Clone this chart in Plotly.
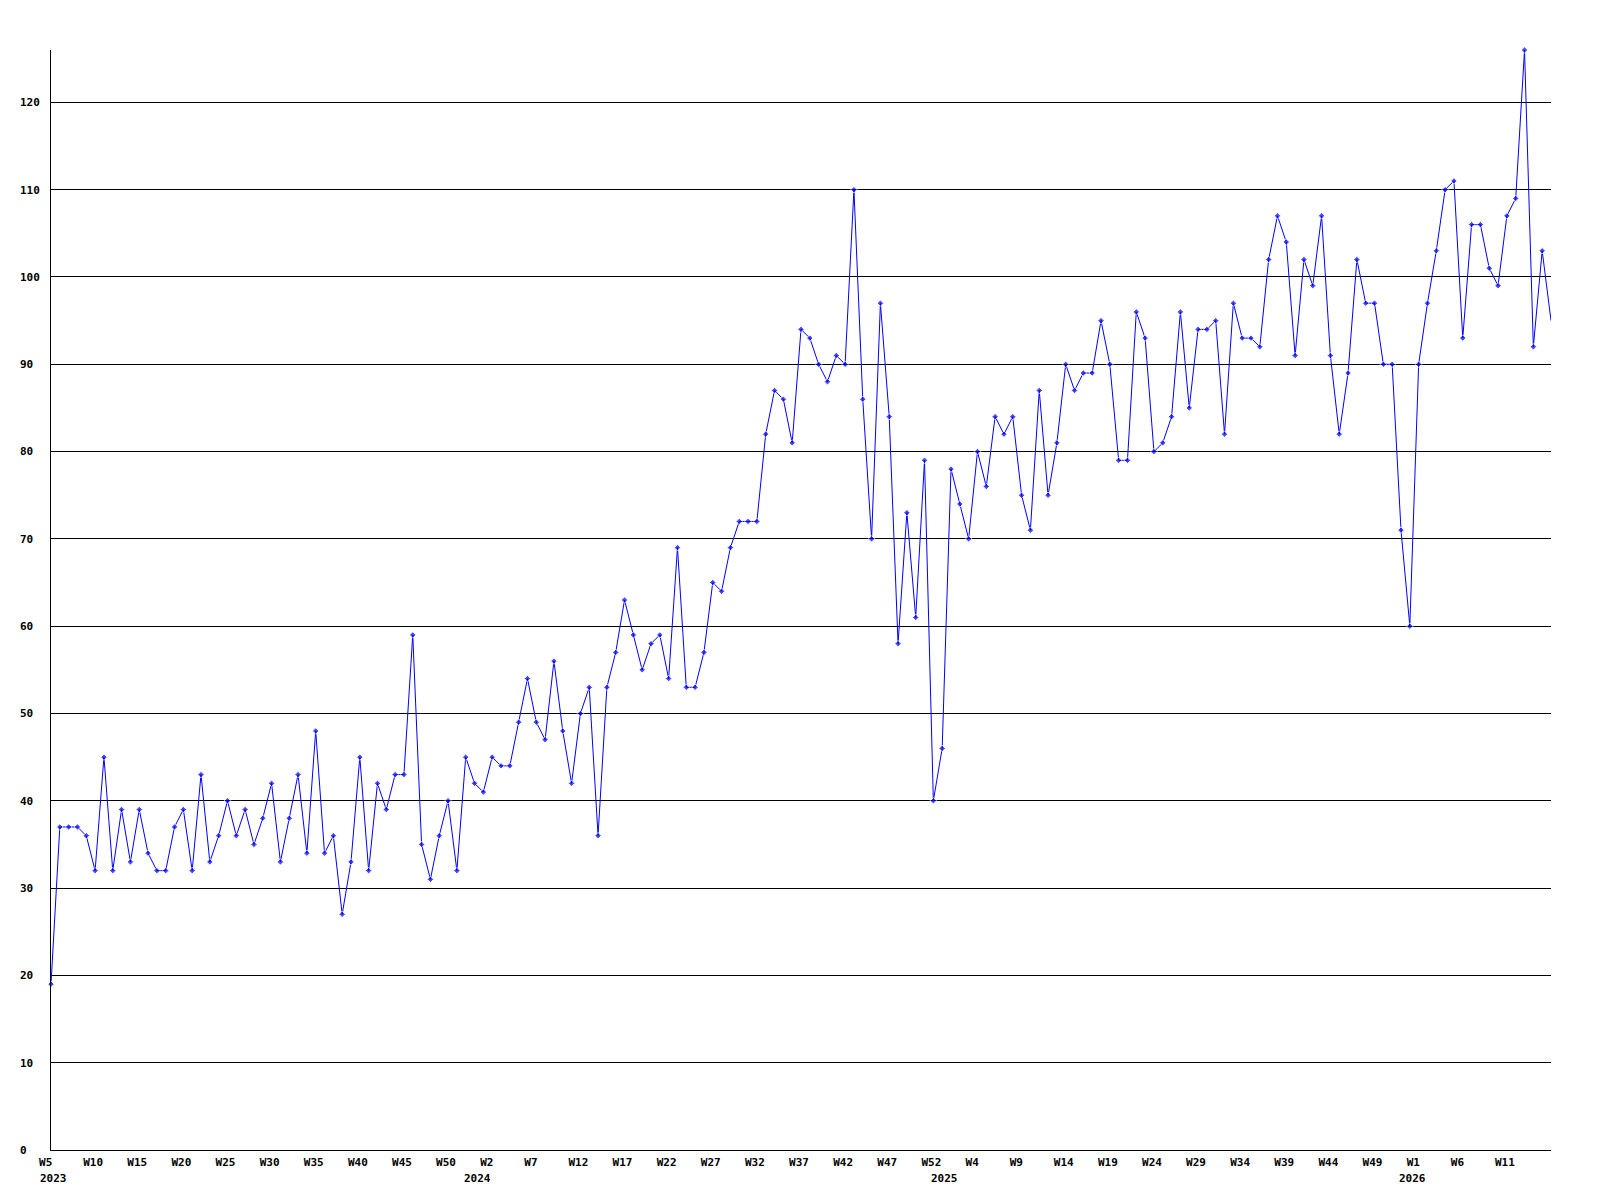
# Weekly counts line chart, 2023 W5 - 2026
import plotly.graph_objects as go

# one value per week, starting at 2023 W5
WEEKLY_COUNTS = [
    19, 37, 37, 37, 36, 32, 45, 32, 39, 33,
    39, 34, 32, 32, 37, 39, 32, 43, 33, 36,
    40, 36, 39, 35, 38, 42, 33, 38, 43, 34,
    48, 34, 36, 27, 33, 45, 32, 42, 39, 43,
    43, 59, 35, 31, 36, 40, 32, 45, 42, 41,
    45, 44, 44, 49, 54, 49, 47, 56, 48, 42,
    50, 53, 36, 53, 57, 63, 59, 55, 58, 59,
    54, 69, 53, 53, 57, 65, 64, 69, 72, 72,
    72, 82, 87, 86, 81, 94, 93, 90, 88, 91,
    90, 110, 86, 70, 97, 84, 58, 73, 61, 79,
    40, 46, 78, 74, 70, 80, 76, 84, 82, 84,
    75, 71, 87, 75, 81, 90, 87, 89, 89, 95,
    90, 79, 79, 96, 93, 80, 81, 84, 96, 85,
    94, 94, 95, 82, 97, 93, 93, 92, 102, 107,
    104, 91, 102, 99, 107, 91, 82, 89, 102, 97,
    97, 90, 90, 71, 60, 90, 97, 103, 110, 111,
    93, 106, 106, 101, 99, 107, 109, 126, 92, 103,
    95,
]

# a label every fifth week
WEEK_TICKS = [
    "W5", "W10", "W15", "W20", "W25", "W30", "W35", "W40", "W45", "W50",
    "W2", "W7", "W12", "W17", "W22", "W27", "W32", "W37", "W42", "W47", "W52",
    "W4", "W9", "W14", "W19", "W24", "W29", "W34", "W39", "W44", "W49",
    "W1", "W6", "W11",
]

# year label sits at the first week of each year
YEARS = ["2023", "2024", "2025", "2026"]
YEAR_AT_WEEK = [0, 48, 101, 154]

Y_TICKS = list(range(0, 130, 10))

FONT = "DejaVu Sans Mono"
TICK_FONT = {"family": FONT, "size": 11, "color": "black", "weight": "bold"}

weeks = list(range(len(WEEKLY_COUNTS)))
# the current (last) week is drawn without a marker
marker_sizes = [5] * (len(WEEKLY_COUNTS) - 1) + [0]

fig = go.Figure()
fig.add_scatter(x=weeks,
                y=WEEKLY_COUNTS,
                mode="lines+markers",
                line={"color": "#0000ff", "width": 1},
                marker={"color": "#0000ff", "size": marker_sizes,
                        "symbol": "diamond"},
                cliponaxis=False,
                showlegend=False)

for year, pos in zip(YEARS, YEAR_AT_WEEK):
    fig.add_annotation(x=pos, y=0, xref="x", yref="paper",
                       text=year, showarrow=False,
                       xanchor="left", yanchor="top",
                       xshift=-13, yshift=-20,
                       font=TICK_FONT)

# pad to equal width so the labels line up on their left edge
fig.update_xaxes(range=[0, len(WEEKLY_COUNTS) - 1],
                 tickmode="array",
                 tickvals=weeks[::5][:len(WEEK_TICKS)],
                 ticktext=[t.ljust(3, "\u00a0") for t in WEEK_TICKS],
                 showgrid=False,
                 zeroline=False,
                 showline=True,
                 linecolor="black",
                 linewidth=1,
                 ticks="",
                 ticklabelstandoff=2,
                 ticklabelshift=-2,
                 tickfont=TICK_FONT)

fig.update_yaxes(range=[0, max(WEEKLY_COUNTS)],
                 tickmode="array",
                 tickvals=Y_TICKS,
                 ticktext=[str(v).ljust(3, "\u00a0") for v in Y_TICKS],
                 showgrid=True,
                 gridcolor="black",
                 gridwidth=1,
                 zeroline=False,
                 showline=True,
                 linecolor="black",
                 linewidth=1,
                 ticks="",
                 ticklabelstandoff=8,
                 tickfont=TICK_FONT)

fig.update_layout(width=1584,
                  height=1184,
                  margin={"l": 41, "r": 41, "t": 42, "b": 42},
                  paper_bgcolor="white",
                  plot_bgcolor="white",
                  showlegend=False)

fig.write_html("out.html")
